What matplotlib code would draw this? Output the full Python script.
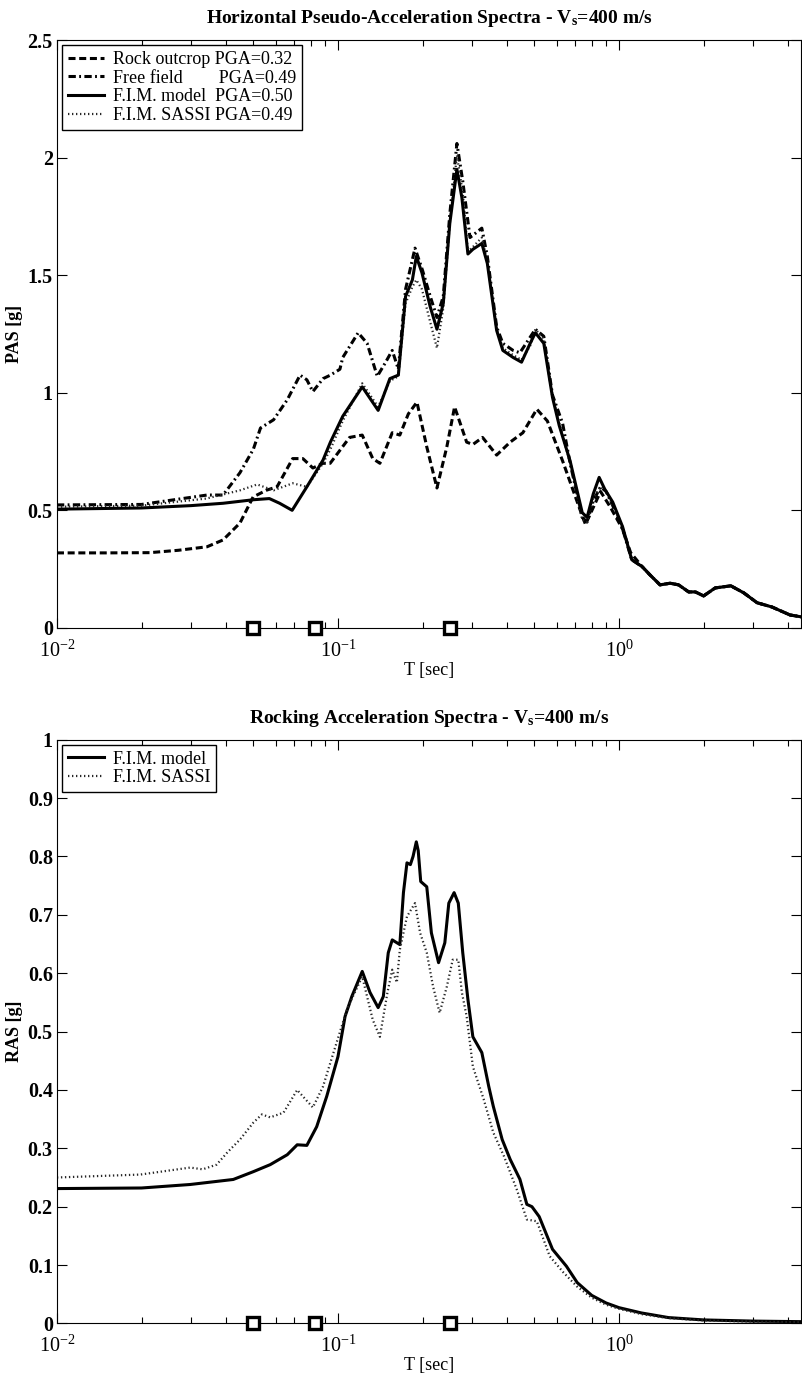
import numpy as np
import matplotlib
matplotlib.use("Agg")
import matplotlib.pyplot as plt
from matplotlib.ticker import FuncFormatter, LogLocator, NullFormatter

plt.rcParams['font.family'] = ['Liberation Serif', 'DejaVu Serif']
plt.rcParams['mathtext.fontset'] = 'custom'
plt.rcParams['mathtext.rm'] = 'Liberation Serif'
plt.rcParams['mathtext.it'] = 'Liberation Serif:italic'
plt.rcParams['mathtext.bf'] = 'Liberation Serif:bold'

# ---- horizontal spectra (T [sec], PAS [g]) ----
t_rock = [0.01, 0.015, 0.0214, 0.027, 0.0342, 0.039, 0.0448, 0.0499, 0.0558, 0.0607,
          0.069, 0.075, 0.0814, 0.0885, 0.0938, 0.110, 0.122, 0.133, 0.141, 0.156,
          0.166, 0.178, 0.191, 0.207, 0.225, 0.244, 0.26, 0.287, 0.302, 0.327,
          0.367, 0.41, 0.455, 0.51, 0.556, 0.63, 0.728, 0.76, 0.86, 0.93, 1.03, 1.10]
pas_rock = [0.319, 0.319, 0.32, 0.33, 0.345, 0.374, 0.446, 0.557, 0.586, 0.60,
            0.72, 0.72, 0.68, 0.70, 0.70, 0.81, 0.82, 0.72, 0.70, 0.83,
            0.82, 0.91, 0.96, 0.77, 0.595, 0.77, 0.94, 0.79, 0.78, 0.81,
            0.735, 0.79, 0.83, 0.93, 0.88, 0.71, 0.50, 0.44, 0.58, 0.515, 0.42, 0.32]

t_free = [0.01, 0.02, 0.0342, 0.039, 0.0448, 0.05, 0.053, 0.059, 0.066, 0.0733,
          0.0775, 0.0814, 0.0885, 0.094, 0.1016, 0.104, 0.118, 0.127, 0.138, 0.147,
          0.156, 0.164, 0.174, 0.188, 0.2, 0.213, 0.225, 0.237, 0.25, 0.265,
          0.278, 0.295, 0.325, 0.34, 0.367, 0.386, 0.42, 0.444, 0.504, 0.54,
          0.58, 0.63, 0.67, 0.74, 0.77, 0.81, 0.86, 0.90, 0.95, 1.03, 1.11]
pas_free = [0.523, 0.525, 0.565, 0.565, 0.66, 0.76, 0.85, 0.885, 0.97, 1.075,
            1.055, 1.005, 1.06, 1.075, 1.10, 1.15, 1.255, 1.21, 1.07, 1.125,
            1.18, 1.10, 1.44, 1.615, 1.52, 1.41, 1.32, 1.41, 1.76, 2.06,
            1.90, 1.66, 1.70, 1.58, 1.28, 1.21, 1.18, 1.17, 1.27, 1.24,
            0.99, 0.87, 0.70, 0.47, 0.45, 0.54, 0.60, 0.58, 0.52, 0.42, 0.29]

t_fim = [0.01, 0.02, 0.03, 0.039, 0.05, 0.057, 0.062, 0.0687, 0.0775, 0.0885,
         0.094, 0.104, 0.122, 0.139, 0.153, 0.164, 0.174, 0.184, 0.19, 0.199,
         0.213, 0.225, 0.237, 0.25, 0.265, 0.276, 0.29, 0.302, 0.325, 0.34,
         0.367, 0.386, 0.42, 0.45, 0.483, 0.504, 0.54, 0.58, 0.613, 0.67,
         0.74, 0.77, 0.81, 0.85, 0.89, 0.95, 1.03, 1.11]
pas_fim = [0.505, 0.51, 0.52, 0.53, 0.545, 0.55, 0.53, 0.50, 0.60, 0.714,
           0.79, 0.90, 1.025, 0.925, 1.06, 1.075, 1.41, 1.48, 1.58, 1.51,
           1.365, 1.27, 1.38, 1.72, 1.95, 1.83, 1.59, 1.61, 1.635, 1.55,
           1.265, 1.18, 1.15, 1.13, 1.21, 1.255, 1.21, 0.98, 0.86, 0.71,
           0.49, 0.47, 0.57, 0.64, 0.59, 0.535, 0.43, 0.29]

t_sassi = [0.01, 0.02, 0.034, 0.0448, 0.0516, 0.059, 0.069, 0.0775, 0.0885, 0.094,
           0.104, 0.122, 0.139, 0.153, 0.164, 0.174, 0.184, 0.19, 0.199, 0.213,
           0.225, 0.237, 0.25, 0.265, 0.278, 0.29, 0.302, 0.325, 0.34, 0.367,
           0.386, 0.42, 0.45, 0.483, 0.504, 0.54, 0.58, 0.613, 0.67, 0.74,
           0.77, 0.81, 0.86, 0.90, 0.95, 1.03, 1.11]
pas_sassi = [0.515, 0.52, 0.55, 0.585, 0.61, 0.585, 0.615, 0.60, 0.70, 0.76,
             0.88, 1.04, 0.94, 1.05, 1.07, 1.38, 1.45, 1.48, 1.44, 1.30,
             1.19, 1.36, 1.72, 2.01, 1.85, 1.60, 1.62, 1.66, 1.56, 1.27,
             1.19, 1.16, 1.14, 1.20, 1.27, 1.23, 0.99, 0.87, 0.70, 0.46,
             0.45, 0.55, 0.60, 0.58, 0.52, 0.43, 0.29]

# common tail of all horizontal spectra
t_tail = [1.11, 1.21, 1.29, 1.40, 1.52, 1.63, 1.77, 1.87, 2.0, 2.2,
          2.5, 2.78, 3.1, 3.5, 4.06, 4.45]
pas_tail = [0.28, 0.26, 0.225, 0.183, 0.19, 0.183, 0.153, 0.153, 0.136, 0.17,
            0.179, 0.149, 0.107, 0.089, 0.055, 0.047]

# ---- rocking spectra (T [sec], RAS [g]) ----
t_rfim = [0.01, 0.02, 0.0298, 0.0424, 0.05, 0.0574, 0.066, 0.0716, 0.0775, 0.084,
          0.0912, 0.1, 0.106, 0.112, 0.122, 0.130, 0.139, 0.145, 0.151, 0.156,
          0.166, 0.171, 0.176, 0.181, 0.185, 0.19, 0.193, 0.197, 0.207, 0.215,
          0.228, 0.24, 0.248, 0.259, 0.268, 0.278, 0.29, 0.302, 0.325, 0.344,
          0.357, 0.384, 0.41, 0.444, 0.47, 0.49, 0.52, 0.58, 0.65, 0.71,
          0.8, 0.9, 1.0, 1.2, 1.5, 2.0, 3.0, 4.45]
ras_rfim = [0.231, 0.232, 0.238, 0.2466, 0.26, 0.272, 0.289, 0.306, 0.305, 0.337,
            0.389, 0.457, 0.526, 0.56, 0.603, 0.567, 0.541, 0.56, 0.635, 0.657,
            0.649, 0.738, 0.789, 0.786, 0.80, 0.825, 0.81, 0.757, 0.748, 0.669,
            0.618, 0.652, 0.72, 0.738, 0.72, 0.635, 0.555, 0.491, 0.464, 0.406,
            0.372, 0.315, 0.281, 0.247, 0.204, 0.20, 0.183, 0.127, 0.098, 0.070,
            0.048, 0.035, 0.027, 0.018, 0.010, 0.006, 0.004, 0.003]

t_rsassi = [0.01, 0.0198, 0.0298, 0.033, 0.037, 0.0404, 0.0448, 0.05, 0.0536, 0.0574,
            0.064, 0.0716, 0.075, 0.0814, 0.0885, 0.094, 0.108, 0.122, 0.133, 0.141,
            0.15, 0.156, 0.162, 0.166, 0.176, 0.188, 0.196, 0.207, 0.218, 0.23,
            0.244, 0.256, 0.268, 0.276, 0.287, 0.302, 0.33, 0.357, 0.39, 0.433,
            0.47, 0.51, 0.567, 0.635, 0.71, 0.8, 0.9, 1.0, 1.2, 1.5, 2.0, 3.0, 4.45]
ras_rsassi = [0.25, 0.255, 0.267, 0.264, 0.272, 0.293, 0.315, 0.344, 0.358, 0.353,
              0.361, 0.40, 0.389, 0.37, 0.406, 0.447, 0.54, 0.594, 0.52, 0.491,
              0.567, 0.606, 0.584, 0.64, 0.697, 0.72, 0.669, 0.635, 0.577, 0.532,
              0.577, 0.623, 0.623, 0.567, 0.526, 0.44, 0.384, 0.327, 0.286, 0.229,
              0.178, 0.175, 0.115, 0.087, 0.063, 0.044, 0.032, 0.025, 0.016, 0.009,
              0.005, 0.003, 0.002]

# characteristic periods marked on the T axis
t_marks = [0.05, 0.083, 0.25]

LW = 2.2
DASH = (2.3, 1.2)
DASHDOT = (2.4, 1.1, 0.6, 1.1)
DOT = (0.6, 1.2)


def join(t, v):
    # append the shared high-period tail
    return np.array(t + t_tail[1:]), np.array(v + pas_tail[1:])


def style_axes(ax, ymax, ystep):
    ax.set_xscale('log')
    ax.set_xlim(0.01, 4.45)
    ax.set_ylim(0, ymax)
    ax.set_yticks(np.arange(0, ymax + 1e-9, ystep))
    ax.yaxis.set_major_formatter(FuncFormatter(lambda v, p: '%g' % round(v, 2)))
    ax.xaxis.set_major_locator(LogLocator(base=10))
    ax.xaxis.set_minor_locator(LogLocator(base=10, subs=np.arange(2, 10)))
    ax.xaxis.set_minor_formatter(NullFormatter())
    ax.tick_params(which='both', direction='in', top=True, right=True, width=0.8)
    ax.tick_params(which='major', length=7)
    ax.tick_params(which='minor', length=4)
    ax.tick_params(axis='x', labelsize=14.5, pad=9)
    ax.tick_params(axis='y', labelsize=14.5, pad=3)
    for lab in ax.get_yticklabels():
        lab.set_fontweight('bold')
    for s in ax.spines.values():
        s.set_linewidth(0.8)
    ax.plot(t_marks, [0] * len(t_marks), 's', ms=8.5, mfc='white', mec='k', mew=2.4,
            clip_on=False, zorder=5)
    ax.set_xlabel('T [sec]', fontsize=13, labelpad=0)


def add_legend(ax, handles, labels):
    ax.legend(handles, labels, loc='upper left', fontsize=13, frameon=True,
              fancybox=False, edgecolor='k', framealpha=1, handlelength=2.0,
              handletextpad=0.5, borderpad=0.3, labelspacing=0.1,
              borderaxespad=0.3)


fig = plt.figure(figsize=(8.02, 13.8), dpi=100)
ax1 = fig.add_axes([0.071, 0.545, 0.928, 0.426])
ax2 = fig.add_axes([0.071, 0.041, 0.928, 0.423])

x, y = join(t_rock, pas_rock)
l_rock, = ax1.plot(x, y, 'k--', lw=LW, dashes=DASH)
x, y = join(t_free, pas_free)
l_free, = ax1.plot(x, y, 'k-.', lw=LW, dashes=DASHDOT)
x, y = join(t_sassi, pas_sassi)
l_sassi, = ax1.plot(x, y, ':', color='0.15', lw=1.6, dashes=DOT)
x, y = join(t_fim, pas_fim)
l_fim, = ax1.plot(x, y, 'k-', lw=LW)
add_legend(ax1, [l_rock, l_free, l_fim, l_sassi],
           ['Rock outcrop PGA=0.32', 'Free field        PGA=0.49',
            'F.I.M. model  PGA=0.50', 'F.I.M. SASSI PGA=0.49'])
style_axes(ax1, 2.5, 0.5)
ax1.set_ylabel('PAS [g]', fontsize=13, fontweight='bold', labelpad=3)
ax1.set_title(r'Horizontal Pseudo-Acceleration Spectra - V$_\mathbf{s}$=400 m/s',
              fontsize=14, fontweight='bold', pad=12)

r_fim, = ax2.plot(t_rfim, ras_rfim, 'k-', lw=LW)
r_sassi, = ax2.plot(t_rsassi, ras_rsassi, ':', color='0.15', lw=1.6, dashes=DOT)
add_legend(ax2, [r_fim, r_sassi], ['F.I.M. model', 'F.I.M. SASSI'])
style_axes(ax2, 1.0, 0.1)
ax2.set_ylabel('RAS [g]', fontsize=13, fontweight='bold', labelpad=3)
ax2.set_title(r'Rocking Acceleration Spectra - V$_\mathbf{s}$=400 m/s',
              fontsize=14, fontweight='bold', pad=12)

fig.savefig('out.png', dpi=100)
